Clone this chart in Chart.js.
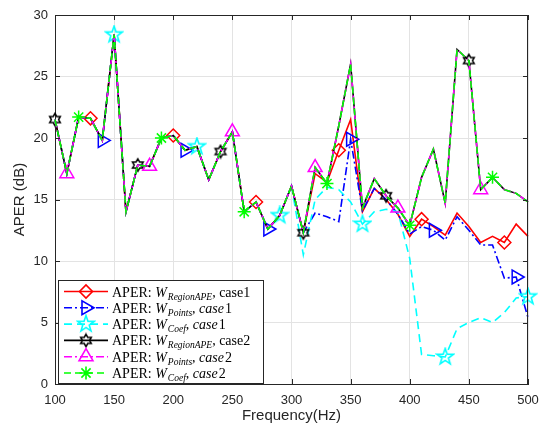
<!DOCTYPE html>
<html><head><meta charset="utf-8">
<script src="https://cdn.jsdelivr.net/npm/chart.js@4.4.1/dist/chart.umd.min.js"></script>
<style>html,body{margin:0;padding:0;background:#fff;}canvas{display:block;}</style>
</head><body>
<canvas id="c" width="555" height="432"></canvas>
<script>
// ---------------- data ----------------
const frequencies = [100,110,120,130,140,150,160,170,180,190,200,210,220,230,240,250,260,270,280,290,300,310,320,330,340,350,360,370,380,390,400,410,420,430,440,450,460,470,480,490,500];
const xTicks = [100,150,200,250,300,350,400,450,500];
const yTicks = [0,5,10,15,20,25,30];

const aperRegionCase1 = [21.5,17.1,21.7,21.6,19.8,28.4,14.0,17.8,17.7,20.0,20.2,19.0,19.3,16.6,18.9,20.5,14.0,14.8,12.6,13.7,16.1,12.3,17.1,16.4,19.0,21.5,14.0,15.9,15.0,13.8,12.0,13.4,12.8,12.1,13.9,12.8,11.5,12.0,11.5,13.0,12.0];
const aperPointsCase1 = [21.5,17.1,21.7,21.6,19.8,28.4,14.0,17.8,17.7,20.0,20.2,19.0,19.3,16.6,18.9,20.5,14.0,14.8,12.6,13.7,16.1,12.3,13.9,13.6,13.2,19.9,14.1,15.9,15.0,13.8,12.2,12.8,12.5,11.7,13.6,12.5,11.3,11.3,8.6,8.7,5.4];
const aperCoefCase1   = [21.5,17.1,21.7,21.6,19.8,28.4,14.0,17.8,17.7,20.0,20.2,19.0,19.3,16.6,18.9,20.5,14.0,14.8,12.6,13.7,16.1,10.5,15.0,16.0,15.8,14.8,13.0,14.0,14.2,14.0,10.2,2.4,2.3,2.2,4.5,5.0,5.4,5.0,5.8,7.0,7.1];
const aperRegionCase2 = [21.5,17.1,21.7,21.6,19.8,28.4,14.0,17.8,17.7,20.0,20.2,19.0,19.3,16.6,18.9,20.5,14.0,14.8,12.6,13.7,16.1,12.3,17.6,16.3,21.0,26.0,14.3,16.7,15.3,14.3,12.9,16.8,19.1,14.7,27.2,26.3,15.8,16.8,15.8,15.5,14.8];
const aperPointsCase2 = [21.5,17.1,21.7,21.6,19.8,28.4,14.0,17.8,17.7,20.0,20.2,19.0,19.3,16.6,18.9,20.5,14.0,14.8,12.6,13.7,16.1,12.3,17.6,16.3,21.0,26.0,14.3,16.7,15.3,14.3,12.9,16.8,19.1,14.7,27.2,26.3,15.8,16.8,15.8,15.5,14.8];
const aperCoefCase2   = [21.5,17.1,21.7,21.6,19.8,28.4,14.0,17.8,17.7,20.0,20.2,19.0,19.3,16.6,18.9,20.5,14.0,14.8,12.6,13.7,16.1,12.3,17.6,16.3,21.0,26.0,14.3,16.7,15.3,14.3,12.9,16.8,19.1,14.7,27.2,26.3,15.8,16.8,15.8,15.5,14.8];

// ---------------- marker images ----------------
function starCanvas(points, outer, inner, color, size, lw){
  const c = document.createElement('canvas'); c.width = size; c.height = size;
  const g = c.getContext('2d'); g.strokeStyle = color; g.lineWidth = lw; g.lineJoin='miter';
  g.beginPath();
  for(let k=0;k<points*2;k++){
    const r = k%2===0 ? outer : inner;
    const a = -Math.PI/2 + k*Math.PI/points;
    const px = size/2 + r*Math.cos(a), py = size/2 + r*Math.sin(a);
    if(k===0) g.moveTo(px,py); else g.lineTo(px,py);
  }
  g.closePath(); g.stroke();
  return c;
}
const pentagram = starCanvas(5, 8.5, 3.4, '#00ffff', 20, 1.6);
const hexagram  = starCanvas(6, 6.2, 6.2/Math.sqrt(3), '#000000', 16, 1.5);

const seriesStyle = [
  {data: aperRegionCase1, color:'#ff0000', dash:[], style:'rectRot', rot:0, r:6.5, marks:[3,10,17,24,31,38]},
  {data: aperPointsCase1, color:'#0000ff', dash:[8,3,2,3], style:'triangle', rot:90, r:8, marks:[4,11,18,25,32,39]},
  {data: aperCoefCase1,   color:'#00ffff', dash:[8,5], style:pentagram, rot:0, r:7, marks:[5,12,19,26,33,40]},
  {data: aperRegionCase2, color:'#000000', dash:[], style:hexagram, rot:0, r:7, marks:[0,7,14,21,28,35]},
  {data: aperPointsCase2, color:'#ff00ff', dash:[8,3,2,3], style:'triangle', rot:0, r:8, marks:[1,8,15,22,29,36]},
  {data: aperCoefCase2,   color:'#00ff00', dash:[7,4], style:'star', rot:0, r:6.5, marks:[2,9,16,23,30,37]}
];

const legendText = [
  [['APER: ','n'],['W','i'],['RegionAPE','s'],[', case1','n']],
  [['APER: ','n'],['W','i'],['Points','s'],[', ','n'],['case','i'],['1','n']],
  [['APER: ','n'],['W','i'],['Coef','s'],[', ','n'],['case','i'],['1','n']],
  [['APER: ','n'],['W','i'],['RegionAPE','s'],[', case2','n']],
  [['APER: ','n'],['W','i'],['Points','s'],[', ','n'],['case','i'],['2','n']],
  [['APER: ','n'],['W','i'],['Coef','s'],[', ','n'],['case','i'],['2','n']]
];

const datasets = seriesStyle.map((s, i) => ({
  label: 'series' + i,
  order: seriesStyle.length - i,
  data: frequencies.map((f, k) => ({x: f, y: s.data[k]})),
  borderColor: s.color,
  backgroundColor: s.color,
  borderWidth: 1.6,
  borderDash: s.dash,
  pointStyle: s.style,
  rotation: s.rot,
  pointRotation: s.rot,
  pointBorderColor: s.color,
  pointBackgroundColor: 'rgba(0,0,0,0)',
  pointBorderWidth: 1.5,
  pointRadius: ctx => s.marks.includes(ctx.dataIndex) ? s.r : 0,
  pointHoverRadius: 0,
  tension: 0,
  fill: false,
  clip: false
}));

const FONT = "'Liberation Sans', Arial, sans-serif";
const SERIF = "'Liberation Serif', 'Times New Roman', serif";
const AX = '#262626';

const boxPlugin = {
  id: 'boxPlugin',
  afterDatasetsDraw(chart){
    const {ctx, chartArea:a} = chart;
    const xs = chart.scales.x, ys = chart.scales.y;
    ctx.save();
    ctx.strokeStyle = AX; ctx.lineWidth = 1;
    ctx.beginPath();
    ctx.moveTo(a.left, a.top+0.5); ctx.lineTo(a.right, a.top+0.5);
    ctx.moveTo(a.right-0.5, a.top); ctx.lineTo(a.right-0.5, a.bottom);
    xTicks.forEach(v => {
      const px = Math.round(xs.getPixelForValue(v)) + 0.5;
      ctx.moveTo(px, a.bottom); ctx.lineTo(px, a.bottom-5);
      ctx.moveTo(px, a.top); ctx.lineTo(px, a.top+5);
    });
    yTicks.forEach(v => {
      const py = Math.round(ys.getPixelForValue(v)) + 0.5;
      ctx.moveTo(a.left, py); ctx.lineTo(a.left+5, py);
      ctx.moveTo(a.right, py); ctx.lineTo(a.right-5, py);
    });
    ctx.stroke();
    ctx.restore();
  },
  afterDraw(chart){
    const ctx = chart.ctx;
    ctx.save();
    const bx = 58, by = 280, bw = 205, bh = 103;
    ctx.fillStyle = '#fff'; ctx.fillRect(bx, by, bw, bh);
    ctx.strokeStyle = AX; ctx.lineWidth = 1; ctx.strokeRect(bx+0.5, by+0.5, bw, bh);
    seriesStyle.forEach((s, i) => {
      const y = by + 11.5 + i*16.3;
      ctx.save();
      ctx.strokeStyle = s.color; ctx.lineWidth = 1.6; ctx.setLineDash(s.dash);
      ctx.beginPath(); ctx.moveTo(bx+6, y); ctx.lineTo(bx+50, y); ctx.stroke();
      ctx.setLineDash([]);
      ctx.fillStyle = 'rgba(0,0,0,0)';
      Chart.helpers.drawPoint(ctx, {pointStyle: s.style, rotation: s.rot, radius: s.r, borderWidth: 1.5}, bx+28, y);
      ctx.restore();
      let x = bx + 54;
      ctx.fillStyle = '#000'; ctx.textBaseline = 'alphabetic';
      legendText[i].forEach(([t, k]) => {
        let f, dy = 0;
        if (k === 'n') f = '14px ' + SERIF;
        else if (k === 'i') f = 'italic 14px ' + SERIF;
        else { f = 'italic 9.5px ' + SERIF; dy = 3; }
        ctx.font = f;
        ctx.fillText(t, x, y + 5 + dy);
        x += ctx.measureText(t).width + (k === 'i' ? 1 : 0);
      });
    });
    ctx.restore();
  }
};

new Chart(document.getElementById('c'), {
  type: 'line',
  data: {datasets},
  options: {
    responsive: false,
    animation: false,
    events: [],
    devicePixelRatio: 1,
    layout: {padding: {top: 15, right: 27, left: 0, bottom: 0}},
    plugins: {legend: {display: false}, tooltip: {enabled: false}},
    scales: {
      x: {
        type: 'linear', min: 100, max: 500,
        afterFit: s => { s.height = 48; },
        afterBuildTicks: s => { s.ticks = xTicks.map(v => ({value: v})); },
        ticks: {font: {family: FONT, size: 13}, color: AX, padding: 9, maxRotation: 0},
        grid: {color: '#e3e3e3', drawTicks: false, lineWidth: 1},
        border: {display: true, color: AX, width: 1},
        title: {display: true, text: 'Frequency(Hz)', font: {family: FONT, size: 15}, color: AX, padding: {top: 0, bottom: 7}}
      },
      y: {
        type: 'linear', min: 0, max: 30,
        afterFit: s => { s.width = 55; },
        afterBuildTicks: s => { s.ticks = yTicks.map(v => ({value: v})); },
        ticks: {font: {family: FONT, size: 13}, color: AX, padding: 7},
        grid: {color: '#e3e3e3', drawTicks: false, lineWidth: 1},
        border: {display: true, color: AX, width: 1},
        title: {display: true, text: 'APER (dB)', font: {family: FONT, size: 15}, color: AX, padding: {top: 11, bottom: 0}}
      }
    }
  },
  plugins: [boxPlugin]
});
</script>
</body></html>
